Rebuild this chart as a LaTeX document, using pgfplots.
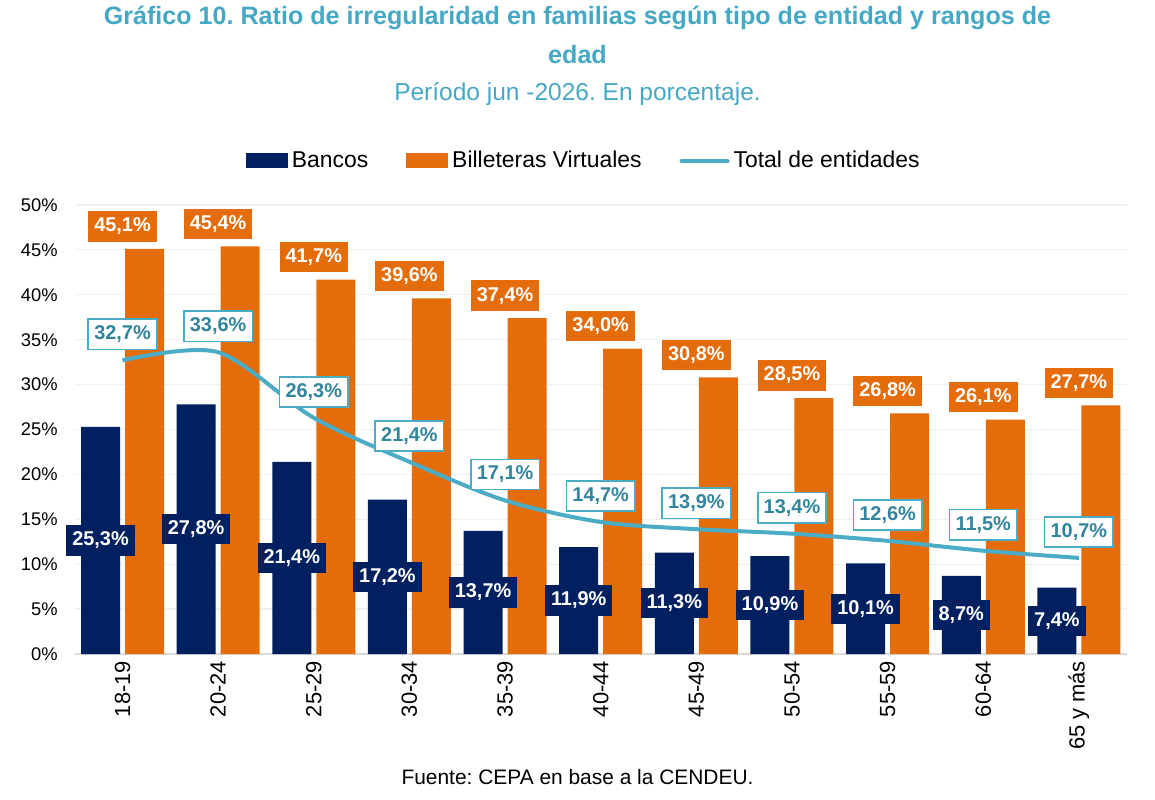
\documentclass[border=0pt]{standalone}
\usepackage{pgfplots}
\usepackage{pgfplotstable}
\pgfplotsset{compat=1.18}
\usepackage{fontspec}
\setmainfont{Liberation Sans}
\frenchspacing
\definecolor{navy}{HTML}{002060}
\definecolor{orng}{HTML}{E46C0A}
\definecolor{teal1}{HTML}{4BACC6}
\definecolor{teal2}{HTML}{31859C}
\definecolor{titc}{HTML}{45A8C4}
\pgfplotstableread{
x b v t
0 25.3 45.1 32.7
1 27.8 45.4 33.6
2 21.4 41.7 26.3
3 17.2 39.6 21.4
4 13.7 37.4 17.1
5 11.9 34.0 14.7
6 11.3 30.8 13.9
7 10.9 28.5 13.4
8 10.1 26.8 12.6
9 8.7 26.1 11.5
10 7.4 27.7 10.7
}\data
\begin{document}
\begin{tikzpicture}
\useasboundingbox (0,0) rectangle (577.5bp,400bp);
\node[text=titc,font=\fontsize{12.6}{14}\selectfont\bfseries] at (288.75bp,391bp) {Gráfico 10. Ratio de irregularidad en familias según tipo de entidad y rangos de};
\node[text=titc,font=\fontsize{12.6}{14}\selectfont\bfseries] at (288.75bp,372.5bp) {edad};
\node[text=titc,font=\fontsize{12.3}{14}\selectfont] at (288.75bp,353bp) {Período jun -2026. En porcentaje.};
\node[font=\fontsize{10.5}{12}\selectfont] at (288.75bp,11.5bp) {Fuente: CEPA en base a la CENDEU.};
\begin{axis}[
  at={(37.35bp,73bp)}, anchor=south west,
  scale only axis, width=526bp, height=224.5bp,
  xmin=-0.5, xmax=10.5, ymin=0, ymax=50,
  clip=false,
  xtick={0,...,10},
  xticklabels={18-19,20-24,25-29,30-34,35-39,40-44,45-49,50-54,55-59,60-64,65 y más},
  xticklabel style={rotate=90, anchor=east, font=\fontsize{11}{12}\selectfont, yshift=0bp},
  ytick={0,5,...,50},
  yticklabel={\pgfmathprintnumber{\tick}\%},
  yticklabel style={font=\fontsize{9.2}{11}\selectfont, xshift=-5bp},
  /pgf/number format/assume math mode=true,
  major tick length=0pt,
  axis x line*=bottom, axis y line*=left,
  x axis line style={draw=black!15, line width=0.75bp},
  y axis line style={draw=none},
  ymajorgrids, grid style={draw=black!6, line width=0.6bp},
  legend style={at={(0.5,1)}, anchor=center, xshift=-8bp, yshift=22bp, draw=none, fill=none,
    legend columns=3, font=\fontsize{11.5}{13}\selectfont,
    /tikz/every even column/.append style={column sep=17bp},
    nodes={inner xsep=2bp}},
  legend cell align=left,
]
\addplot[ybar, bar width=19.5bp, bar shift=-11bp, fill=navy, draw=none,
  area legend, legend image code/.code={\fill[navy] (0bp,-3.75bp) rectangle (21bp,3.75bp);}]
  table[x=x,y=b] {\data};
\addlegendentry{Bancos}
\addplot[ybar, bar width=19.5bp, bar shift=11bp, fill=orng, draw=none,
  legend image code/.code={\fill[orng] (0bp,-3.75bp) rectangle (21bp,3.75bp);},
  nodes near coords={\pgfmathprintnumber[fixed,fixed zerofill,precision=1,use comma]{\pgfplotspointmeta}\%},
  point meta=explicit,
  every node near coord/.append style={fill=orng, text=white, font=\fontsize{10}{11}\selectfont\bfseries,
     anchor=south, yshift=3.5bp, inner xsep=3bp, minimum height=15bp}]
  table[x=x,y=v,meta=v] {\data};
\addlegendentry{Billeteras Virtuales}
\addplot[draw=none, mark=none, forget plot,
  nodes near coords={\pgfmathprintnumber[fixed,fixed zerofill,precision=1,use comma]{\pgfplotspointmeta}\%},
  point meta=explicit,
  every node near coord/.append style={fill=navy, text=white, font=\fontsize{10}{11}\selectfont\bfseries,
     anchor=center, xshift=-11bp, inner xsep=3bp, minimum height=15bp}]
  table[x=x,y expr=\thisrow{b}/2,meta=b] {\data};
\addplot[teal1, line width=2bp, smooth, mark=none,
  legend image code/.code={\draw[teal1, line width=2bp, line cap=round] (0bp,0bp) -- (23bp,0bp);},
  nodes near coords={\pgfmathprintnumber[fixed,fixed zerofill,precision=1,use comma]{\pgfplotspointmeta}\%},
  point meta=explicit,
  every node near coord/.append style={fill=white, draw=teal1, line width=0.8bp, text=teal2,
     font=\fontsize{10}{11}\selectfont\bfseries,
     anchor=south, yshift=5bp, inner xsep=3bp, minimum height=15bp}]
  table[x=x,y=t,meta=t] {\data};
\addlegendentry{Total de entidades}
\end{axis}
\end{tikzpicture}
\end{document}
